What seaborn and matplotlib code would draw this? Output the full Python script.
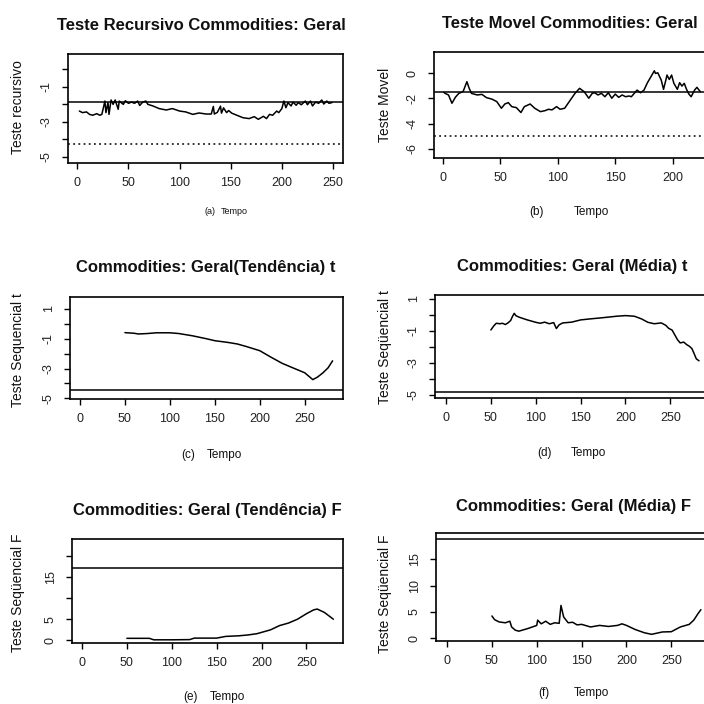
import matplotlib
matplotlib.use("Agg")
import matplotlib.pyplot as plt
import seaborn as sns

sns.set_theme(style="ticks")
plt.rcParams['font.family'] = ['Liberation Sans', 'DejaVu Sans']

# (a) Teste recursivo
rec_t = [2, 5, 9, 12, 15, 19, 22, 24, 27, 28, 30, 31, 33, 35, 37, 40, 41, 45, 47, 50,
         53, 56, 59, 61, 64, 67, 69, 74, 80, 87, 93, 100, 106, 113, 119, 126, 131, 133,
         134, 137, 140, 141, 143, 146, 148, 151, 156, 162, 168, 173, 177, 182, 185, 188,
         191, 195, 197, 200, 202, 204, 206, 209, 211, 214, 216, 219, 223, 225, 228, 230,
         233, 236, 239, 241, 244, 246, 249]
rec_v = [-2.38, -2.47, -2.43, -2.57, -2.62, -2.53, -2.62, -2.57, -1.81, -2.47, -1.90, -2.57,
         -1.75, -2.00, -1.75, -2.28, -1.81, -2.00, -1.79, -1.94, -1.87, -1.94, -1.81, -2.06,
         -1.87, -1.81, -2.00, -2.09, -2.24, -2.32, -2.24, -2.38, -2.43, -2.57, -2.49, -2.55,
         -2.55, -2.12, -2.55, -2.45, -2.10, -2.50, -2.20, -2.47, -2.35, -2.50, -2.62, -2.76,
         -2.81, -2.70, -2.85, -2.68, -2.81, -2.57, -2.62, -2.38, -2.47, -2.24, -1.81, -2.19,
         -1.90, -2.09, -1.87, -2.05, -1.90, -2.02, -1.81, -2.02, -1.81, -2.09, -1.87, -1.94,
         -1.75, -1.98, -1.81, -1.94, -1.90]
rec_crit = -1.88
rec_crit2 = -4.26

# (b) Teste movel
mov_t = [1, 2, 5, 8, 11, 14, 17, 18, 21, 23, 25, 30, 34, 38, 43, 47, 51, 54, 57, 60, 64,
         68, 71, 76, 80, 85, 89, 92, 95, 99, 102, 106, 111, 115, 119, 123, 127, 130, 132,
         135, 138, 141, 144, 147, 150, 153, 156, 159, 162, 164, 167, 169, 172, 175, 178,
         181, 184, 185, 187, 190, 192, 194, 195, 197, 199, 201, 204, 206, 208, 210, 212,
         214, 216, 219, 221, 224]
mov_v = [-1.51, -1.59, -1.72, -2.38, -1.90, -1.59, -1.48, -1.38, -0.66, -1.19, -1.59, -1.72,
         -1.67, -1.93, -2.06, -2.25, -2.78, -2.44, -2.33, -2.65, -2.73, -3.12, -2.65, -2.44,
         -2.78, -3.05, -2.97, -2.86, -2.91, -2.65, -2.86, -2.78, -2.12, -1.59, -1.19, -1.46,
         -1.98, -1.59, -1.54, -1.72, -1.59, -1.86, -1.54, -1.98, -1.65, -1.91, -1.72, -1.86,
         -1.80, -1.86, -1.54, -1.33, -1.54, -1.33, -0.74, -0.27, 0.21, 0.00, 0.05, -0.53,
         -1.27, -0.53, -0.13, -0.48, -0.13, -0.79, -1.27, -0.74, -1.01, -0.79, -1.27, -1.64,
         -1.86, -1.33, -1.11, -1.46]
mov_crit = -1.48
mov_crit2 = -4.98

# (c) sequencial t, tendencia
tt_t = [50, 60, 65, 75, 85, 100, 110, 125, 140, 150, 165, 175, 185, 200, 212, 225, 238,
        250, 259, 264, 270, 276, 281]
tt_v = [-0.59, -0.63, -0.68, -0.65, -0.60, -0.60, -0.65, -0.80, -0.99, -1.13, -1.25, -1.35,
        -1.52, -1.80, -2.22, -2.65, -2.98, -3.28, -3.74, -3.58, -3.30, -2.95, -2.48]
tt_crit = -4.41

# (d) sequencial t, media
mt_t = [50, 53, 56, 60, 63, 66, 69, 72, 74, 76, 78, 82, 90, 100, 105, 110, 115, 120, 123,
        126, 130, 140, 150, 160, 175, 190, 200, 210, 218, 225, 232, 240, 245, 248, 252,
        255, 258, 261, 265, 268, 271, 274, 276, 279, 282]
mt_v = [-0.94, -0.70, -0.52, -0.55, -0.52, -0.60, -0.50, -0.35, -0.10, 0.10, -0.05, -0.15,
        -0.30, -0.46, -0.52, -0.45, -0.55, -0.48, -0.85, -0.62, -0.50, -0.45, -0.31, -0.25,
        -0.17, -0.08, -0.04, -0.08, -0.25, -0.46, -0.55, -0.50, -0.65, -0.83, -0.95, -1.25,
        -1.55, -1.75, -1.70, -1.85, -1.95, -2.10, -2.35, -2.75, -2.87]
mt_crit = -4.83

# (e) sequencial F, tendencia
tf_t = [50, 75, 80, 100, 120, 125, 150, 160, 175, 185, 195, 200, 210, 220, 230, 240, 250,
        258, 262, 270, 280]
tf_v = [0.5, 0.5, 0.15, 0.15, 0.2, 0.55, 0.55, 0.95, 1.1, 1.3, 1.6, 1.9, 2.5, 3.5, 4.1, 5.0,
        6.3, 7.2, 7.4, 6.6, 5.0]
tf_crit = 17.0

# (f) sequencial F, media
mf_t = [50, 53, 58, 65, 70, 72, 76, 80, 90, 100, 101, 105, 110, 115, 120, 125, 127, 130,
        135, 140, 145, 150, 160, 170, 180, 190, 195, 200, 210, 220, 228, 240, 250, 260,
        270, 275, 280, 283]
mf_v = [4.2, 3.5, 3.06, 2.9, 3.2, 2.1, 1.5, 1.3, 1.8, 2.4, 3.4, 2.7, 3.2, 2.6, 2.9, 2.8, 6.2,
        4.0, 2.9, 3.0, 2.5, 2.6, 2.1, 2.4, 2.2, 2.4, 2.7, 2.4, 1.6, 1.0, 0.7, 1.15, 1.2, 2.1,
        2.6, 3.4, 4.7, 5.4]
mf_crit = 18.85

x_ticks = [0, 50, 100, 150, 200, 250]

W = H = 704
fig = plt.figure(figsize=(7.04, 7.04), dpi=100)


def panel(box, t, v, xlim, ylim, yticks, ylabels, crit, crit2=None):
    left, top, right, bottom = box
    ax = fig.add_axes([left / W, 1 - bottom / H, (right - left) / W, (bottom - top) / H])
    sns.lineplot(x=t, y=v, ax=ax, color="black", lw=1.1, estimator=None, sort=False)
    ax.axhline(crit, color="black", lw=1.1)
    if crit2 is not None:
        ax.axhline(crit2, color="black", lw=1.1, ls=(0, (1.2, 2.2)))
    ax.set_xticks(x_ticks)
    ax.set_yticks(yticks, labels=ylabels)
    # limits after the ticks, so set_xticks does not widen the view
    ax.set_xlim(*xlim)
    ax.set_ylim(*ylim)
    ax.tick_params(axis="both", length=4, width=1, color="black", labelsize=9,
                   labelcolor="#222222")
    ax.tick_params(axis="x", pad=6)
    ax.tick_params(axis="y", pad=7, labelrotation=90)
    plt.setp(ax.get_yticklabels(), va="center")
    for s in ax.spines.values():
        s.set_color("black")
        s.set_linewidth(1.2)
    ax.set_xlabel("")
    ax.set_ylabel("")
    return ax


def label(x, y, s, size=9, weight="normal", rot=0):
    fig.text(x / W, 1 - y / H, s, ha="center", va="center", fontsize=size,
             fontweight=weight, rotation=rot, color="#111111")


panel((68, 54, 343, 163), rec_t, rec_v, (-9.1, 259.8), (-5.34, 0.87),
      [0, -1, -2, -3, -4, -5], ["", "-1", "", "-3", "", "-5"], rec_crit, rec_crit2)
panel((434, 52, 710, 158), mov_t, mov_v, (-7.6, 232.4), (-6.75, 1.71),
      [0, -2, -4, -6], ["0", "-2", "-4", "-6"], mov_crit, mov_crit2)
panel((70, 297, 343, 399), tt_t, tt_v, (-11.1, 292.6), (-5.04, 1.8),
      [1, 0, -1, -2, -3, -4, -5], ["1", "", "-1", "", "-3", "", "-5"], tt_crit)
panel((435, 295, 708, 398), mt_t, mt_v, (-12.3, 292), (-5.2, 1.25),
      [1, 0, -1, -2, -3, -4, -5], ["1", "", "-1", "", "-3", "", "-5"], mt_crit)
panel((72, 539, 343, 643), tf_t, tf_v, (-11.1, 290.7), (-0.6, 23.9),
      [0, 5, 10, 15, 20], ["0", "5", "", "15", ""], tf_crit)
panel((436, 533, 709, 641), mf_t, mf_v, (-12.3, 292), (-0.57, 20.0),
      [0, 5, 10, 15], ["0", "5", "10", "15"], mf_crit)

# titles
label(201, 26, "Teste Recursivo Commodities: Geral", 12, "bold")
label(570, 23, "Teste Movel Commodities: Geral", 12, "bold")
label(206, 268, "Commodities: Geral(Tendência) t", 12, "bold")
label(572, 266, "Commodities: Geral (Média) t", 12, "bold")
label(207, 510, "Commodities: Geral (Tendência) F", 12, "bold")
label(573, 507, "Commodities: Geral (Média) F", 12, "bold")

# y labels
label(18, 107, "Teste recursivo", 10, rot=90)
label(385, 105, "Teste Movel", 10, rot=90)
label(18, 350, "Teste Sequencial t", 10, rot=90)
label(385, 347, "Teste Seqüencial t", 10, rot=90)
label(18, 593, "Teste Seqüencial F", 10, rot=90)
label(385, 594, "Teste Seqüencial F", 10, rot=90)

# x labels
label(210, 212, "(a)", 6.5)
label(234, 212, "Tempo", 6.5)
label(536, 212, "(b)", 8.5)
label(591, 212, "Tempo", 8.5)
label(188, 455, "(c)", 8.5)
label(224, 455, "Tempo", 8.5)
label(544, 453, "(d)", 8.5)
label(588, 453, "Tempo", 8.5)
label(191, 697, "(e)", 8.5)
label(227, 697, "Tempo", 8.5)
label(544, 693, "(f)", 8.5)
label(591, 693, "Tempo", 8.5)

fig.savefig("out.png", dpi=100, facecolor="white")
